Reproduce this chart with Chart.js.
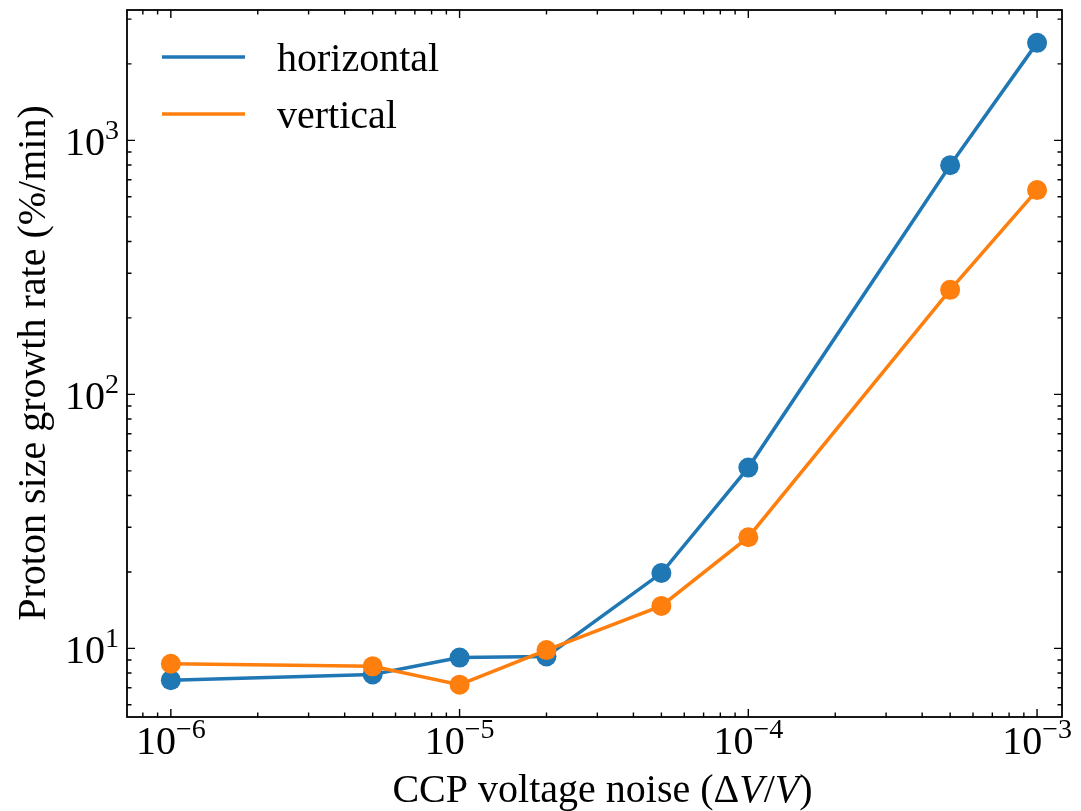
<!DOCTYPE html>
<html>
<head>
<meta charset="utf-8">
<script src="https://cdn.jsdelivr.net/npm/chart.js@4/dist/chart.umd.min.js"></script>
<style>
  body { margin: 0; background: #fff; }
  #wrap { width: 1081px; height: 811px; }
</style>
</head>
<body>
<div id="wrap"><canvas id="myChart" width="1081" height="811"></canvas></div>
<script>
// noise level (dV/V) and growth rates
const noise = [1e-6, 5e-6, 1e-5, 2e-5, 5e-5, 1e-4, 5e-4, 1e-3];
const horizontal = [7.5, 7.9, 9.2, 9.3, 19.8, 51.5, 798, 2420];
const vertical = [8.7, 8.5, 7.2, 9.85, 14.7, 27.4, 258, 637];
const seriesNames = ['horizontal', 'vertical'];
const xTickExps = [-6, -5, -4, -3];
const yTickExps = [1, 2, 3];

const blue = '#1f77b4';
const orange = '#ff7f0e';
const serif = '"Liberation Serif", "Times New Roman", serif';
const FS = 40;

const pts = vals => noise.map((x, i) => ({ x: x, y: vals[i] }));

// draws "10" with a raised exponent
function powLabel(ctx, exp, x, y, align) {
  const base = '10';
  const sup = (exp < 0 ? '\u2212' : '') + Math.abs(exp);
  ctx.font = FS + 'px ' + serif;
  const wb = ctx.measureText(base).width;
  ctx.font = Math.round(FS * 0.7) + 'px ' + serif;
  const ws = ctx.measureText(sup).width;
  const w = wb + ws;
  let x0 = x;
  if (align === 'center') x0 = x - w / 2;
  if (align === 'right') x0 = x - w;
  ctx.textAlign = 'left';
  ctx.textBaseline = 'alphabetic';
  ctx.font = FS + 'px ' + serif;
  ctx.fillText(base, x0, y);
  ctx.font = Math.round(FS * 0.7) + 'px ' + serif;
  ctx.fillText(sup, x0 + wb, y - FS * 0.4);
}

const frame = {
  id: 'frame',
  afterDraw(chart) {
    const ctx = chart.ctx;
    const a = chart.chartArea;
    const xs = chart.scales.x, ys = chart.scales.y;
    ctx.save();
    ctx.fillStyle = '#000';
    ctx.strokeStyle = '#000';

    // box
    ctx.lineWidth = 1.8;
    ctx.strokeRect(a.left, a.top, a.right - a.left, a.bottom - a.top);

    // inward ticks on all four sides
    ctx.lineWidth = 1.4;
    const logTicks = (sc, cb) => {
      const lo = Math.floor(Math.log10(sc.min)), hi = Math.ceil(Math.log10(sc.max));
      for (let d = lo; d <= hi; d++) {
        for (let m = 1; m <= 9; m++) {
          const v = m * Math.pow(10, d);
          if (v < sc.min || v > sc.max) continue;
          cb(sc.getPixelForValue(v), m === 1);
        }
      }
    };
    ctx.beginPath();
    logTicks(xs, (px, major) => {
      const len = major ? 8 : 4.5;
      ctx.moveTo(px, a.bottom); ctx.lineTo(px, a.bottom - len);
      ctx.moveTo(px, a.top); ctx.lineTo(px, a.top + len);
    });
    logTicks(ys, (py, major) => {
      const len = major ? 8 : 4.5;
      ctx.moveTo(a.left, py); ctx.lineTo(a.left + len, py);
      ctx.moveTo(a.right, py); ctx.lineTo(a.right - len, py);
    });
    ctx.stroke();

    // tick labels
    xTickExps.forEach(e => powLabel(ctx, e, xs.getPixelForValue(Math.pow(10, e)), a.bottom + 37, 'center'));
    yTickExps.forEach(e => powLabel(ctx, e, a.left - 8, ys.getPixelForValue(Math.pow(10, e)) + 15, 'right'));

    // x axis title with italic V
    const parts = [['CCP voltage noise (\u0394', ''], ['V', 'italic '], ['/', ''], ['V', 'italic '], [')', '']];
    let total = 0;
    parts.forEach(p => { ctx.font = p[1] + FS + 'px ' + serif; total += ctx.measureText(p[0]).width; });
    let cx = (a.left + a.right) / 2 + 8 - total / 2;
    ctx.textAlign = 'left';
    ctx.textBaseline = 'alphabetic';
    parts.forEach(p => {
      ctx.font = p[1] + FS + 'px ' + serif;
      ctx.fillText(p[0], cx, 802);
      cx += ctx.measureText(p[0]).width;
    });

    // y axis title
    ctx.save();
    ctx.translate(45, 363);
    ctx.rotate(-Math.PI / 2);
    ctx.font = FS + 'px ' + serif;
    ctx.textAlign = 'center';
    ctx.fillText('Proton size growth rate (%/min)', 0, 0);
    ctx.restore();

    // legend in the upper left
    [blue, orange].forEach((c, i) => {
      const ly = 57 + i * 57;
      ctx.strokeStyle = c;
      ctx.lineWidth = 3.5;
      ctx.beginPath();
      ctx.moveTo(162, ly); ctx.lineTo(245, ly);
      ctx.stroke();
      ctx.font = FS + 'px ' + serif;
      ctx.textAlign = 'left';
      ctx.fillText(seriesNames[i], 277, ly + 14);
    });
    ctx.restore();
  }
};

new Chart(document.getElementById('myChart'), {
  type: 'line',
  data: {
    datasets: [
      {
        label: seriesNames[0],
        data: pts(horizontal),
        borderColor: blue,
        backgroundColor: blue,
        borderWidth: 3.5,
        pointRadius: 10,
        pointBorderWidth: 0,
        order: 1
      },
      {
        label: seriesNames[1],
        data: pts(vertical),
        borderColor: orange,
        backgroundColor: orange,
        borderWidth: 3.5,
        pointRadius: 10,
        pointBorderWidth: 0,
        order: 0
      }
    ]
  },
  options: {
    responsive: false,
    animation: false,
    layout: { padding: { left: 127, top: 6, right: 19, bottom: 94 } },
    plugins: { legend: { display: false }, tooltip: { enabled: false } },
    scales: {
      x: { type: 'logarithmic', min: 7.05e-7, max: 1.22e-3, display: false },
      y: { type: 'logarithmic', min: 5.37, max: 3260, display: false }
    }
  },
  plugins: [frame]
});
</script>
</body>
</html>
